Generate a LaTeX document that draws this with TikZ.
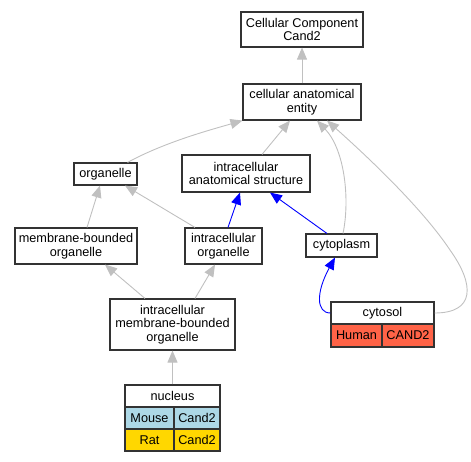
\documentclass[tikz,border=0pt]{standalone}
\usepackage{fontspec}
\setmainfont{Liberation Sans}
\usetikzlibrary{arrows.meta}
\definecolor{edgegray}{HTML}{C0C0C0}
\definecolor{tomatoc}{HTML}{FF6347}
\definecolor{lbluec}{HTML}{ADD8E6}
\definecolor{goldc}{HTML}{FFD700}
\definecolor{borderc}{HTML}{333333}
\begin{document}
\begin{tikzpicture}[x=1pt,y=-1pt,
 box/.style={draw=borderc,line width=1.1pt,fill=white,align=center,inner sep=0pt,
   font=\fontsize{12.7}{13.5}\selectfont},
 cell/.style={box,minimum height=22},
 gedge/.style={draw=edgegray,line width=0.9pt,-{Triangle[length=12pt,width=10pt]}},
 bedge/.style={draw=blue,line width=0.9pt,-{Triangle[length=12pt,width=10pt]}},
]
\useasboundingbox (0,0) rectangle (471,461);
\node[box,minimum width=122,minimum height=35] (cc) at (302,29.5) {Cellular Component\\Cand2};
\node[box,minimum width=118,minimum height=36] (cae) at (302,102) {cellular anatomical\\entity};
\node[box,minimum width=63,minimum height=22] (org) at (105.5,174) {organelle};
\node[box,minimum width=128,minimum height=37] (ias) at (246,173.5) {intracellular\\anatomical structure};
\node[box,minimum width=122,minimum height=36] (mbo) at (76,246) {membrane-bounded\\organelle};
\node[box,minimum width=77,minimum height=36] (io) at (223.5,246) {intracellular\\organelle};
\node[box,minimum width=71,minimum height=23] (cyto) at (341.5,245.5) {cytoplasm};
\node[box,minimum width=125,minimum height=51] (imbo) at (172.5,324.5) {intracellular\\membrane-bounded\\organelle};
% cytosol table
\node[cell,minimum width=103] (cytosol) at (382.5,313) {cytosol};
\node[cell,minimum width=51,minimum height=23,fill=tomatoc] (hum) at (356.5,335.5) {Human};
\node[cell,minimum width=52,minimum height=23,fill=tomatoc] (hcand) at (408,335.5) {CAND2};
% nucleus table
\node[cell,minimum width=95] (nuc) at (172.5,396) {nucleus};
\node[cell,minimum width=49,fill=lbluec] (mouse) at (149.5,418) {Mouse};
\node[cell,minimum width=46,fill=lbluec] (mcand) at (197,418) {Cand2};
\node[cell,minimum width=49,fill=goldc] (rat) at (149.5,440) {Rat};
\node[cell,minimum width=46,fill=goldc] (rcand) at (197,440) {Cand2};
% edges
\draw[gedge] (cae) -- (cc);
\draw[gedge] ([xshift=22]org.north) .. controls (165,142) and (210,130) .. ([xshift=0]cae.south west);
\draw[gedge] ([xshift=16]ias.north) -- ([xshift=-12]cae.south);
\draw[gedge] ([xshift=1.5]cyto.north) .. controls (350,200) and (345,150) .. ([xshift=15]cae.south);
\draw[gedge] (cytosol.east) .. controls (475,313) and (475,285) .. (450,250) .. controls (420,205) and (360,150) .. ([xshift=25]cae.south);
\draw[gedge] ([xshift=11]mbo.north) -- ([xshift=-5.5]org.south);
\draw[gedge] ([xshift=-28.5]io.north) -- ([xshift=19.5]org.south);
\draw[bedge] ([xshift=4.5]io.north) -- ([xshift=-6]ias.south);
\draw[bedge] ([xshift=-14.5]cyto.north) -- ([xshift=24]ias.south);
\draw[bedge] (cytosol.west) .. controls (316,313) and (316,292) .. ([xshift=-6.5]cyto.south);
\draw[gedge] ([xshift=-27.5]imbo.north) -- ([xshift=29]mbo.south);
\draw[gedge] ([xshift=22.5]imbo.north) -- ([xshift=-8.5]io.south);
\draw[gedge] (nuc) -- (imbo);
\end{tikzpicture}
\end{document}
